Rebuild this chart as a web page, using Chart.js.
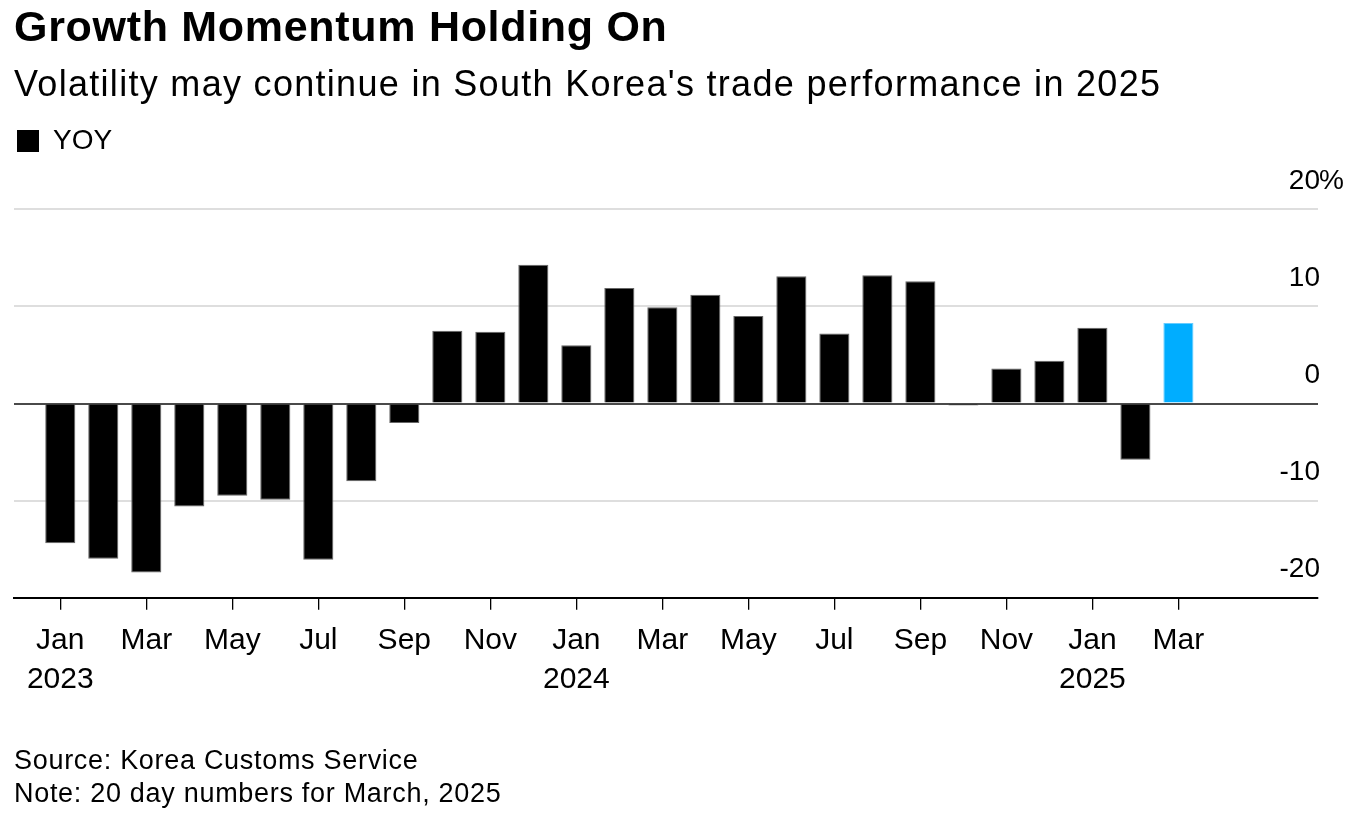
<!DOCTYPE html>
<html>
<head>
<meta charset="utf-8">
<title>Growth Momentum Holding On</title>
<script src="https://cdn.jsdelivr.net/npm/chart.js@4.4.1/dist/chart.umd.min.js"></script>
<style>
  html, body { margin: 0; padding: 0; background: #fff; }
  body { width: 1355px; height: 813px; position: relative; overflow: hidden;
         font-family: "Liberation Sans", Arial, sans-serif; color: #000; }
  #chartbox { position: absolute; left: 0; top: 0; width: 1355px; height: 813px; }
  .txt { position: absolute; left: 14px; white-space: nowrap; line-height: 1; }
  #title { top: 5px; font-size: 43px; font-weight: bold; letter-spacing: 0.7px; }
  #subtitle { top: 66px; font-size: 36px; letter-spacing: 1.3px; }
  #source { top: 747px; font-size: 27px; letter-spacing: 0.7px; }
  #note { top: 780px; font-size: 27px; letter-spacing: 0.7px; }
</style>
</head>
<body>
<div id="chartbox"><canvas id="yoychart" width="1355" height="813"></canvas></div>
<div class="txt" id="title">Growth Momentum Holding On</div>
<div class="txt" id="subtitle">Volatility may continue in South Korea's trade performance in 2025</div>
<div class="txt" id="source">Source: Korea Customs Service</div>
<div class="txt" id="note">Note: 20 day numbers for March, 2025</div>

<script>
// monthly categories, Jan 2023 .. Mar 2025
var months = [
  "Jan 2023", "Feb 2023", "Mar 2023", "Apr 2023", "May 2023", "Jun 2023",
  "Jul 2023", "Aug 2023", "Sep 2023", "Oct 2023", "Nov 2023", "Dec 2023",
  "Jan 2024", "Feb 2024", "Mar 2024", "Apr 2024", "May 2024", "Jun 2024",
  "Jul 2024", "Aug 2024", "Sep 2024", "Oct 2024", "Nov 2024", "Dec 2024",
  "Jan 2025", "Feb 2025", "Mar 2025"
];

// year-over-year change, %
var yoy = [
  -14.4, -16.0, -17.4, -10.6, -9.5, -9.9,
  -16.1, -8.0, -2.0, 7.5, 7.4, 14.3,
  6.0, 11.9, 9.9, 11.2, 9.0, 13.1,
  7.2, 13.2, 12.6, -0.2, 3.6, 4.4,
  7.8, -5.8, 8.3
];

// the partial month (20 day numbers)
var highlightMonth = "Mar 2025";

// x axis ticks
var xTickMonths = [
  "Jan 2023", "Mar 2023", "May 2023", "Jul 2023", "Sep 2023", "Nov 2023",
  "Jan 2024", "Mar 2024", "May 2024", "Jul 2024", "Sep 2024", "Nov 2024",
  "Jan 2025", "Mar 2025"
];
var xTickLabels = [
  ["Jan", "2023"], "Mar", "May", "Jul", "Sep", "Nov",
  ["Jan", "2024"], "Mar", "May", "Jul", "Sep", "Nov",
  ["Jan", "2025"], "Mar"
];

// y axis ticks
var yTickValues = [-20, -10, 0, 10, 20];

var fontFamily = '"Liberation Sans", Arial, sans-serif';
var yLabelOffset = -28;
var yLabelPad = 2;

Chart.defaults.font.family = fontFamily;
Chart.defaults.color = "#000";

//puts the % sign after the top tick label only
var percentSign = {
  id: "percentSign",
  afterDraw: function(chart) {
    var ys = chart.scales.y;
    var ctx = chart.ctx;
    ctx.save();
    ctx.font = "28px " + fontFamily;
    ctx.fillStyle = "#000";
    ctx.textAlign = "left";
    ctx.textBaseline = "middle";
    ctx.fillText("%", ys.left + yLabelPad - 1, ys.getPixelForValue(yTickValues[yTickValues.length - 1]) + yLabelOffset);
    ctx.restore();
  }
};

var tickPositions = xTickMonths.map(function(m) { return months.indexOf(m); });

var ctx = document.getElementById("yoychart").getContext("2d");
var yoychart = new Chart(ctx, {
  type: "bar",
  data: {
    datasets: [{
      label: "YOY",
      data: months.map(function(m, i) { return { x: i, y: yoy[i] }; }),
      backgroundColor: months.map(function(m) { return m === highlightMonth ? "#00adff" : "#000"; }),
      borderColor: months.map(function(m) { return m === highlightMonth ? "#66ccff" : "#666"; }),
      borderWidth: 1,
      barPercentage: 0.7,
      categoryPercentage: 1.0
    }]
  },
  options: {
    responsive: false,
    animation: false,
    layout: {
      padding: { top: 124, left: 14, right: 37, bottom: 95.3 }
    },
    plugins: {
      legend: {
        position: "top",
        align: "start",
        labels: {
          boxWidth: 22,
          boxHeight: 22,
          padding: 3,
          font: { size: 28 },
          color: "#000",
          generateLabels: function(chart) {
            return Chart.defaults.plugins.legend.labels.generateLabels(chart).map(function(item) {
              item.lineWidth = 0;
              return item;
            });
          }
        }
      },
      // empty subtitle used as a spacer between the legend and the plot
      subtitle: {
        display: true,
        text: "",
        weight: 500,
        font: { size: 10, lineHeight: 1 },
        padding: { top: 0, bottom: 34.3 }
      },
      tooltip: { enabled: false }
    },
    scales: {
      x: {
        type: "linear",
        min: -1.076,
        max: 29.246,
        offset: false,
        afterBuildTicks: function(scale) {
          scale.ticks = tickPositions.map(function(v) { return { value: v }; });
        },
        afterFit: function(scale) { scale.height = 120; },
        ticks: {
          autoSkip: false,
          maxRotation: 0,
          padding: 12,
          font: { size: 30, lineHeight: 1.3 },
          color: "#000",
          callback: function(value, index) { return xTickLabels[index]; }
        },
        grid: {
          offset: false,
          drawOnChartArea: false,
          drawTicks: true,
          tickLength: 12,
          color: "#000",
          lineWidth: 1.3
        },
        border: { display: true, color: "#000", width: 2 }
      },
      y: {
        type: "linear",
        position: "right",
        min: yTickValues[0],
        max: yTickValues[yTickValues.length - 1],
        afterBuildTicks: function(scale) {
          scale.ticks = yTickValues.map(function(v) { return { value: v }; });
        },
        afterFit: function(scale) { scale.width = 0; },
        ticks: {
          mirror: true,
          padding: yLabelPad,
          labelOffset: yLabelOffset,
          font: { size: 28 },
          color: "#000",
          callback: function(value) { return value; }
        },
        grid: {
          drawTicks: false,
          color: function(c) {
            if (c.tick.value === 0) return "#4a4a4a";
            if (c.tick.value === yTickValues[0]) return "rgba(0,0,0,0)";
            return "#dedede";
          },
          lineWidth: 2
        },
        border: { display: false }
      }
    }
  },
  plugins: [percentSign]
});
</script>
</body>
</html>
